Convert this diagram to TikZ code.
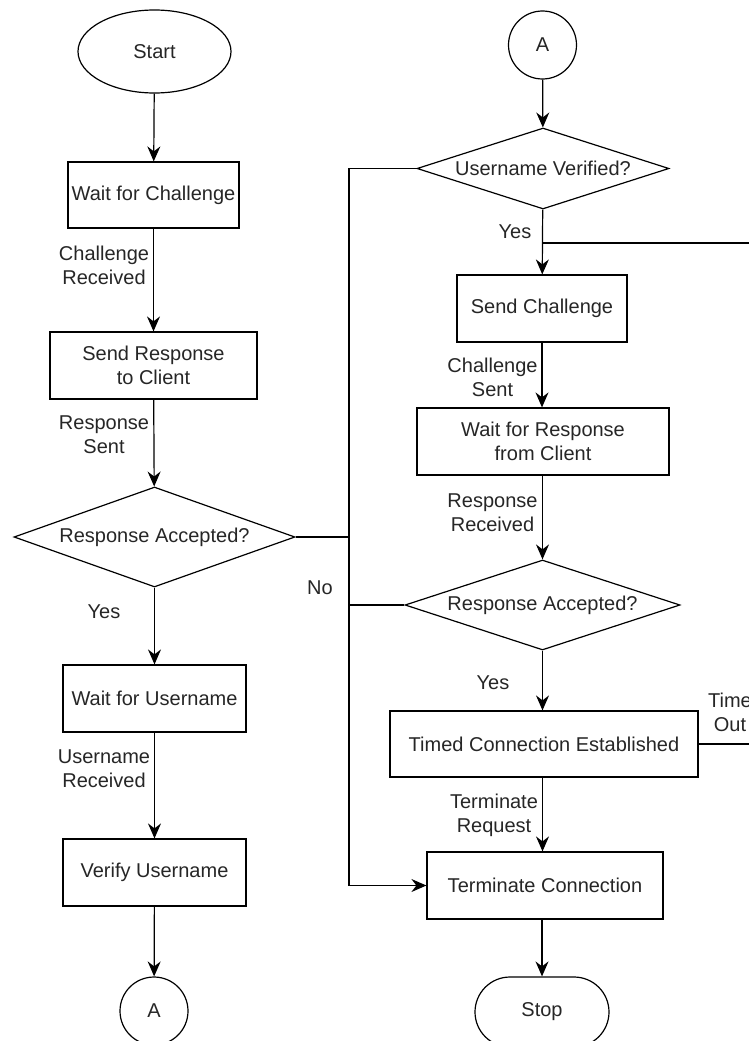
\documentclass[tikz,border=0pt]{standalone}
\usepackage{fontspec}
\setmainfont{Liberation Sans}
\usetikzlibrary{shapes.geometric,arrows.meta}
\begin{document}
\begin{tikzpicture}[x=1pt,y=-1pt,
  every node/.style={font=\fontsize{20}{24}\selectfont, text=black!85, inner sep=0pt},
  proc/.style={draw, rectangle, line width=1.2pt, align=center},
  dec/.style={draw, diamond, line width=1.2pt},
  term/.style={draw, ellipse, line width=1.2pt},
  conn/.style={draw, circle, line width=1.2pt, minimum size=68pt},
  lbl/.style={align=center},
  flow/.style={line width=1.2pt, -{Stealth[length=15pt,width=13pt,inset=5pt]}},
  plain/.style={line width=1.2pt}]
\useasboundingbox (0,0) rectangle (749,1041);
\clip (0,0) rectangle (749,1041);
% left column
\node[term, minimum width=153pt, minimum height=83pt] (start) at (154.5,51.5) {Start};
\node[proc, minimum width=171pt, minimum height=66pt] (wfc) at (153.5,195) {Wait for Challenge};
\node[proc, minimum width=207pt, minimum height=67pt] (srp) at (153.5,365.5) {Send Response\\to Client};
\node[dec, minimum width=281pt, minimum height=100pt] (d1) at (154.5,537) {\makebox[0pt]{Response Accepted?}};
\node[proc, minimum width=183pt, minimum height=67pt] (wfu) at (154.5,698.5) {Wait for Username};
\node[proc, minimum width=183pt, minimum height=67pt] (vu) at (154.5,872.5) {Verify Username};
\node[conn] (a1) at (154,1011) {A};
% right column
\node[conn] (a2) at (542.5,45) {A};
\node[dec, minimum width=252pt, minimum height=81pt] (d2) at (543,168.5) {\makebox[0pt]{Username Verified?}};
\node[proc, minimum width=170pt, minimum height=67pt] (sc) at (542,308.5) {Send Challenge};
\node[proc, minimum width=252pt, minimum height=67pt] (wrc) at (543,441.5) {Wait for Response\\from Client};
\node[dec, minimum width=275pt, minimum height=90pt] (d3) at (542.5,605) {\makebox[0pt]{Response Accepted?}};
\node[proc, minimum width=308pt, minimum height=66pt] (tce) at (544,744) {Timed Connection Established};
\node[proc, minimum width=236pt, minimum height=67pt] (tc) at (545,885.5) {Terminate Connection};
\node[draw, rectangle, rounded corners=35pt, line width=1.2pt, minimum width=134pt, minimum height=70pt] (stop) at (542,1012) {Stop};
% labels
\node[lbl] (l1) at (104,265) {Challenge\\Received};
\node[lbl] (l2) at (104,435) {Response\\Sent};
\node[lbl] (l3) at (104,612) {Yes};
\node[lbl] (l4) at (104,769) {Username\\Received};
\node[lbl] (l5) at (320,588) {No};
\node[lbl] (l6) at (515,232) {Yes};
\node[lbl] (l7) at (492.5,377) {Challenge\\Sent};
\node[lbl] (l8) at (492.5,513) {Response\\Received};
\node[lbl] (l9) at (493,683) {Yes};
\node[lbl] (l10) at (494,815) {Terminate\\Request};
\node[lbl] (l11) at (730,712) {Time\\Out};
% coordinates
\coordinate (nTop) at (349,168.5);
\coordinate (loopR) at (775,243);
% connectors left
\draw[flow] (start) -- (wfc);
\draw[flow] (wfc) -- (srp);
\draw[flow] (srp) -- (d1);
\draw[flow] (d1) -- (wfu);
\draw[flow] (wfu) -- (vu);
\draw[flow] (vu) -- (a1);
% connectors right
\draw[flow] (a2) -- (d2);
\draw[flow] (d2) -- (sc);
\draw[flow] (sc.south) -- (wrc.north -| sc.south);
\draw[flow] (wrc.south -| d3.north) -- (d3.north);
\draw[flow] (d3.south) -- (tce.north -| d3.south);
\draw[flow] (tce.south -| d3.south) -- (tc.north -| d3.south);
\draw[flow] (tc.south -| stop.north) -- (stop.north);
% No branches
\draw[flow] (d2.west) -- (nTop) |- (tc.west);
\draw[plain] (d1.east) -- (d1.east -| nTop);
\draw[plain] (d3.west) -- (d3.west -| nTop);
% Time out loop
\draw[plain] (tce.east) -- (tce.east -| loopR) -- (loopR) -- (loopR -| d2.south);
\end{tikzpicture}
\end{document}
